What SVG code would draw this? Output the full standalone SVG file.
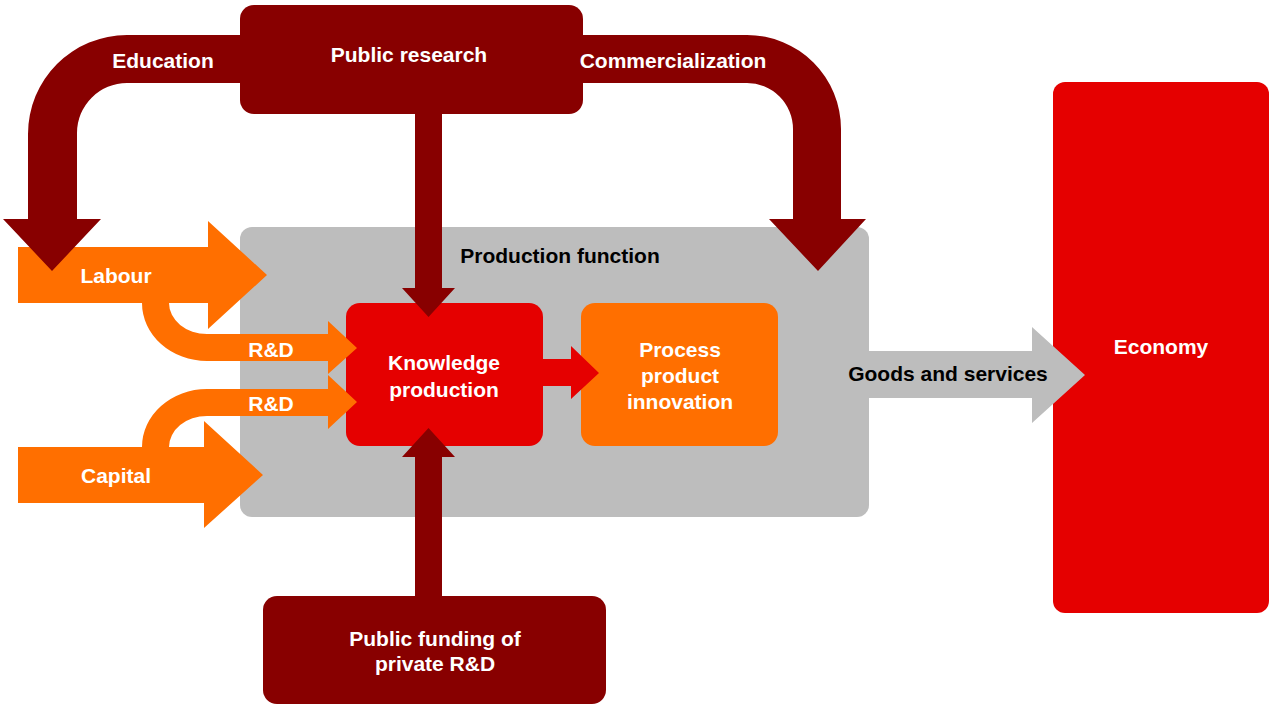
<svg xmlns="http://www.w3.org/2000/svg" width="1270" height="704" viewBox="0 0 1270 704">
  <style>
    text { font-family: "Liberation Sans", Arial, sans-serif; font-weight: bold; font-size: 21px; text-anchor: middle; }
    .w { fill: #ffffff; }
    .k { fill: #000000; }
    .dark { fill: #880000; }
    .red { fill: #e50000; }
    .orange { fill: #ff6f00; }
    .grey { fill: #bdbdbd; }
  </style>

  <rect width="1270" height="704" fill="#ffffff"/>

  <!-- nodes -->
  <g id="production-function">
    <rect class="grey" x="240" y="227" width="629" height="290" rx="12"/>
    <text class="k" x="560" y="263">Production function</text>
  </g>
  <g id="public-research">
    <rect class="dark" x="240" y="5" width="343" height="109" rx="14"/>
    <text class="w" x="409" y="62">Public research</text>
  </g>
  <g id="knowledge-production">
    <rect class="red" x="346" y="303" width="197" height="143" rx="14"/>
    <text class="w" x="444" y="370">Knowledge</text>
    <text class="w" x="444" y="397">production</text>
  </g>
  <g id="process-product-innovation">
    <rect class="orange" x="581" y="303" width="197" height="143" rx="14"/>
    <text class="w" x="680" y="357">Process</text>
    <text class="w" x="680" y="383">product</text>
    <text class="w" x="680" y="409">innovation</text>
  </g>
  <g id="public-funding">
    <rect class="dark" x="263" y="596" width="343" height="108" rx="14"/>
    <text class="w" x="435" y="646">Public funding of</text>
    <text class="w" x="435" y="671">private R&amp;D</text>
  </g>
  <g id="economy">
    <rect class="red" x="1053" y="82" width="216" height="531" rx="12"/>
    <text class="w" x="1161" y="354">Economy</text>
  </g>

  <!-- connectors -->
  <g id="connectors">
    <!-- factor inputs -->
    <path class="orange" d="M18,247 L208,247 L208,221 L267,275 L208,329 L208,303 L18,303 Z"/>
    <path class="orange" d="M18,447 L204,447 L204,421 L263,475 L204,528 L204,503 L18,503 Z"/>
    <path class="orange" d="M142,303 A65,58 0 0 0 207,361 L328,361 L328,374 L357,348 L328,321 L328,334 L207,334 A38,31 0 0 1 169,303 Z"/>
    <path class="orange" d="M142,447 A65,58 0 0 1 207,389 L328,389 L328,375 L357,402 L328,429 L328,416 L207,416 A38,31 0 0 0 169,447 Z"/>
    <text class="w" x="116" y="283">Labour</text>
    <text class="w" x="116" y="483">Capital</text>
    <text class="w" x="271" y="357">R&amp;D</text>
    <text class="w" x="271" y="411">R&amp;D</text>

    <!-- public research outflows -->
    <path class="dark" d="M240,35 L127,35 A99,99 0 0 0 28,134 L28,219 L3,219 L52,271 L101,219 L77,219 L77,133 A50,50 0 0 1 127,83 L240,83 Z"/>
    <path class="dark" d="M582,35 L747,35 A94,94 0 0 1 841,129 L841,219 L866,219 L818,271 L769,219 L793,219 L793,129 A46,46 0 0 0 747,83 L582,83 Z"/>
    <path class="dark" d="M415,114 L442,114 L442,288 L455,288 L428.5,317 L402,288 L415,288 Z"/>
    <path class="dark" d="M415,596 L442,596 L442,457 L455,457 L428.5,428 L402,457 L415,457 Z"/>
    <text class="w" x="163" y="68">Education</text>
    <text class="w" x="673" y="68">Commercialization</text>

    <!-- knowledge to innovation -->
    <path class="red" d="M543,359 L571,359 L571,346 L599,373 L571,399 L571,386 L543,386 Z"/>

    <!-- output to economy -->
    <path class="grey" d="M865,351 L1032,351 L1032,327 L1085,375 L1032,423 L1032,398 L865,398 Z"/>
    <text class="k" x="948" y="381">Goods and services</text>
  </g>
</svg>
